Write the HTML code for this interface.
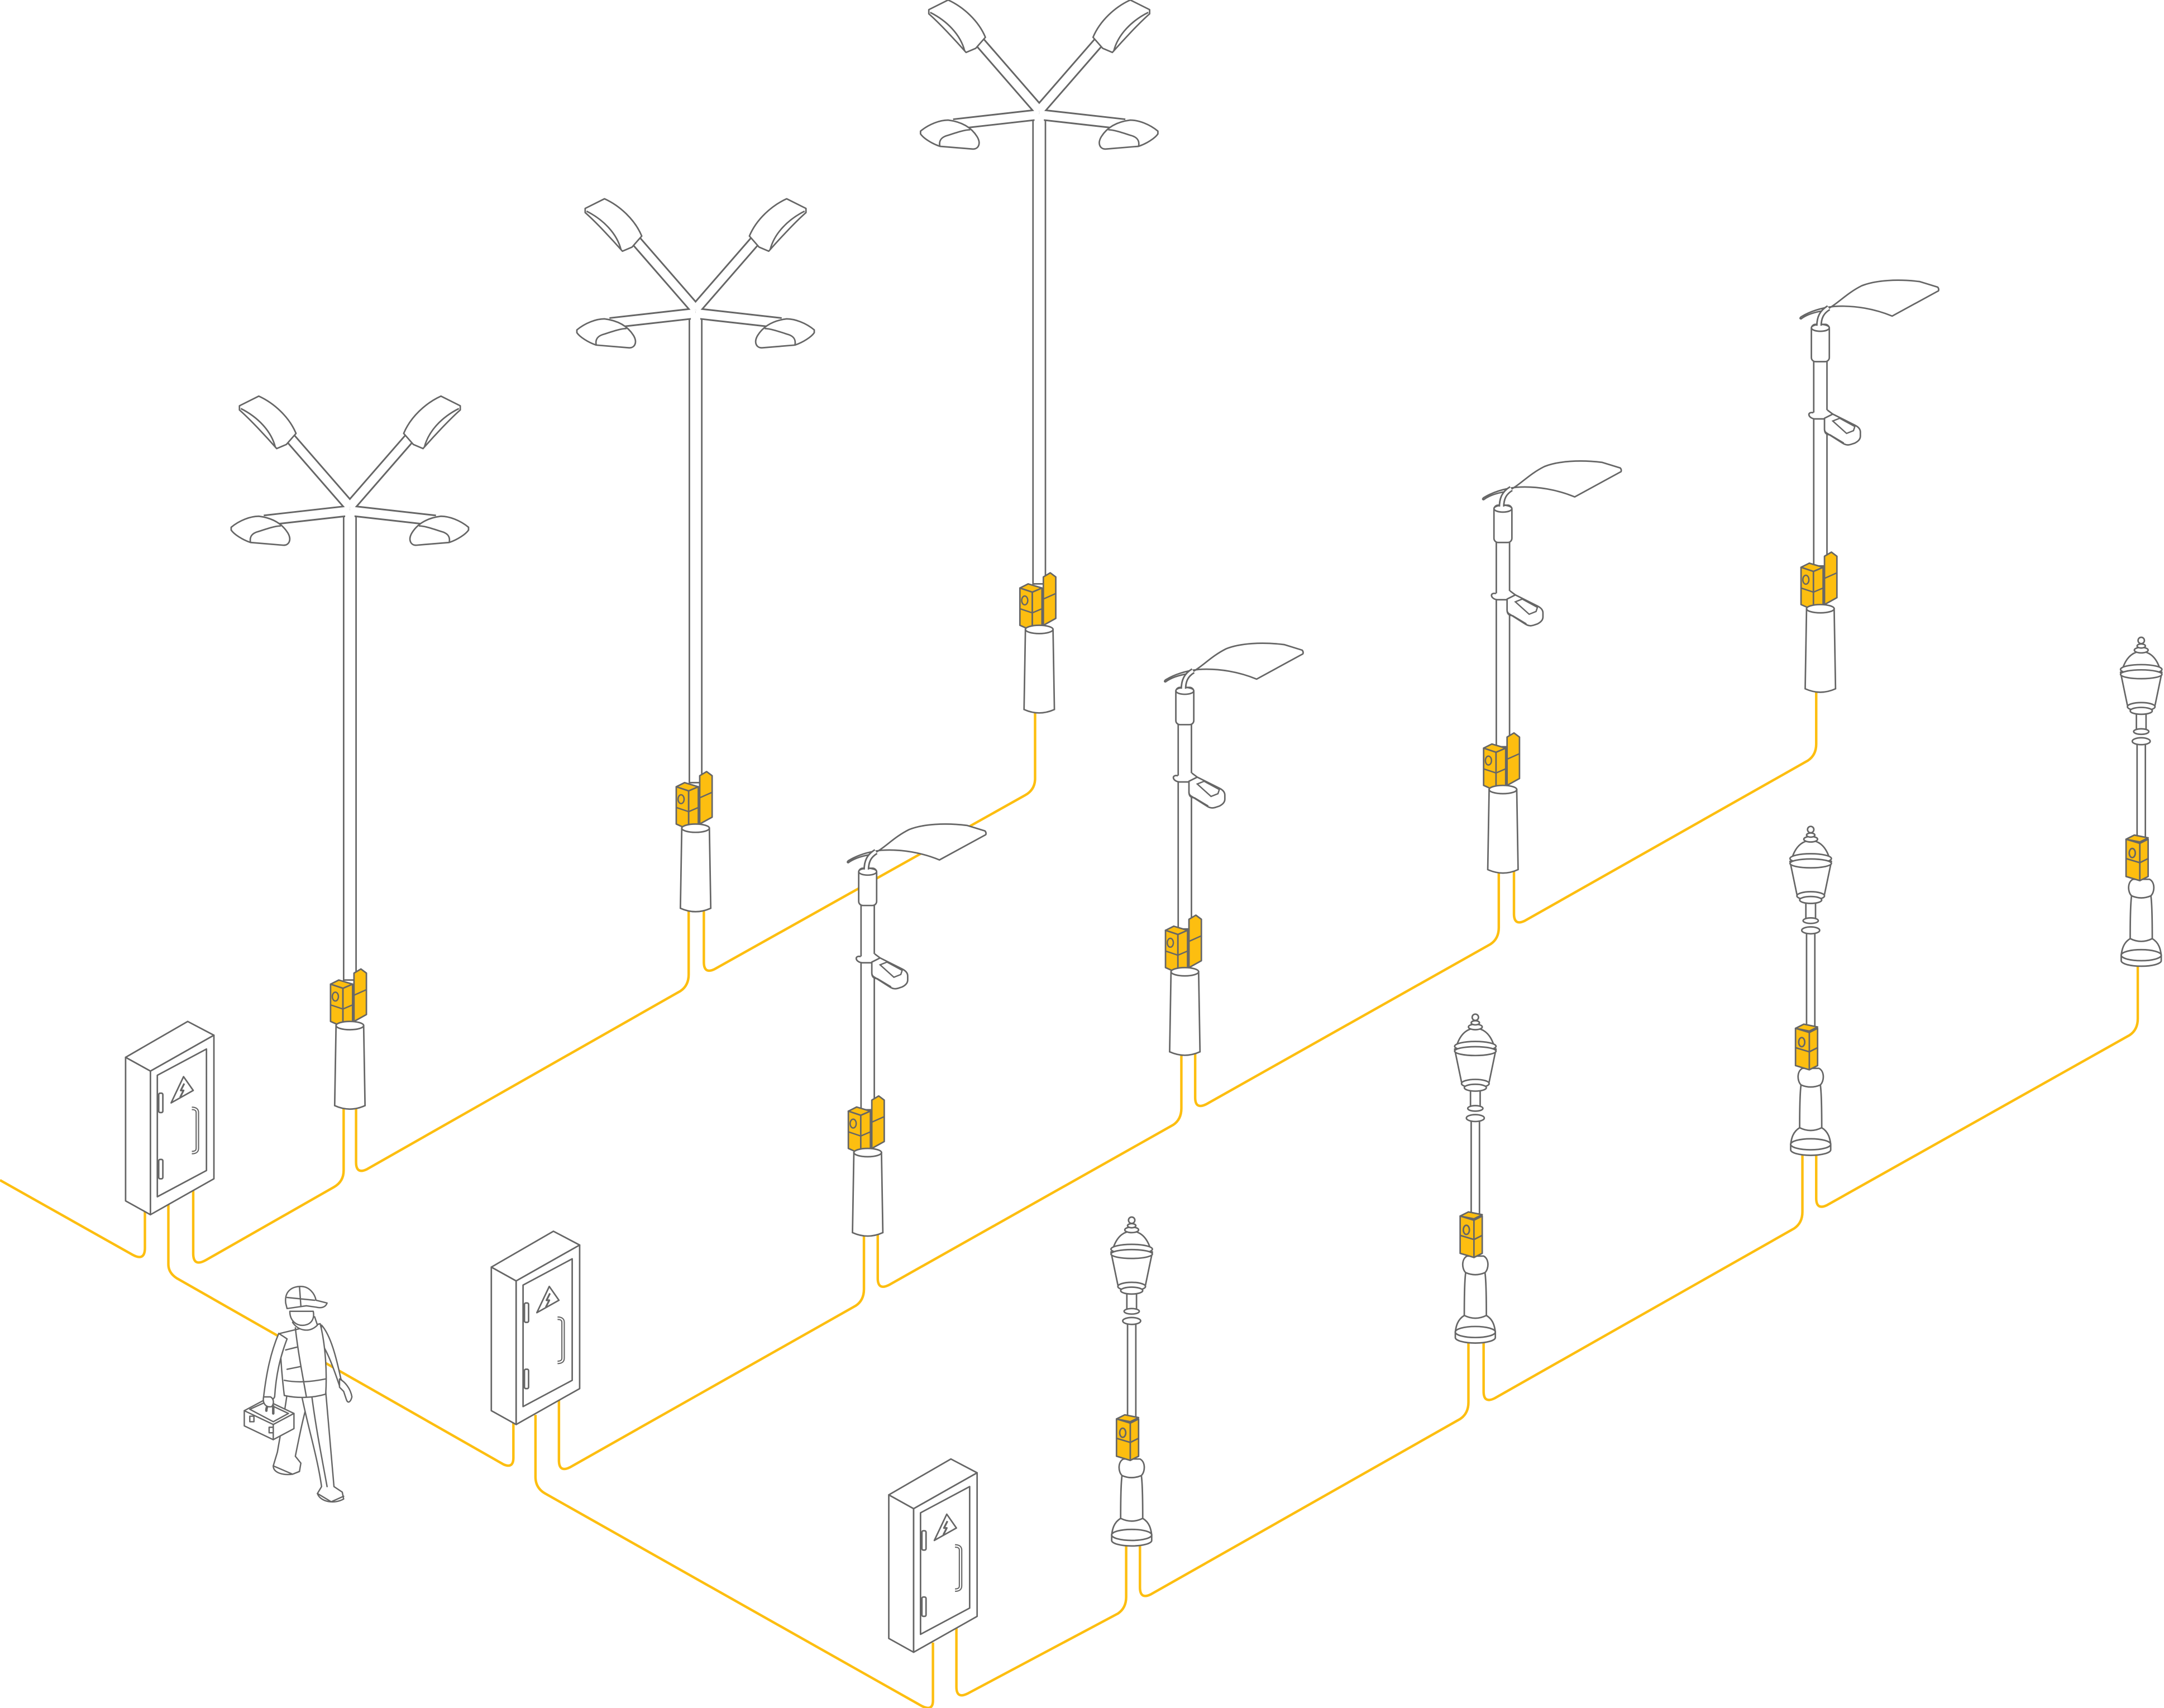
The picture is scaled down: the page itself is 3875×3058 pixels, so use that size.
<!DOCTYPE html>
<html><head><meta charset="utf-8"><style>
html,body{margin:0;padding:0;background:#fff;}
svg{display:block;}
</style></head><body>
<svg width="3875" height="3058" viewBox="0 0 1568 1237.4" preserveAspectRatio="none" xmlns="http://www.w3.org/2000/svg">
<defs>
<g id="boxA">
  <path d="M3,-2 L8,-5 L12,-2 L12,28 L3,33 Z" fill="#FDBE10" stroke="#666" stroke-width="1.1" stroke-linejoin="round"/>
  <path d="M3,14 L12,10" stroke="#666" stroke-width="1"/>
  <path d="M-14,6 L-8,3 L2,6 L-5,9 Z" fill="#FDBE10" stroke="#666" stroke-width="1.1" stroke-linejoin="round"/>
  <path d="M-14,6 L-5,9 L-5,37 L-14,33 Z" fill="#FDBE10" stroke="#666" stroke-width="1.1" stroke-linejoin="round"/>
  <path d="M-5,9 L2,6 L2,34 L-5,37 Z" fill="#FDBE10" stroke="#666" stroke-width="1.1" stroke-linejoin="round"/>
  <ellipse cx="-10.5" cy="15" rx="2.2" ry="3.2" fill="none" stroke="#666" stroke-width="1"/>
  <path d="M-14,21 L-5,24 L2,21" fill="none" stroke="#666" stroke-width="1"/>
</g>
<g id="cone">
  <path d="M-10,1 L10,1 L11,59 Q0,64 -11,59 Z" fill="#fff" stroke="#666" stroke-width="1.1"/>
  <ellipse cx="0" cy="1" rx="10" ry="3" fill="#fff" stroke="#666" stroke-width="1.1"/>
</g>
<g id="lampA">
  <rect x="-4.5" y="-2" width="9" height="345" fill="#fff" stroke="#666" stroke-width="1.1"/>
  <g fill="none" stroke-linecap="butt">
    <path d="M0,0 L-47,-54 M0,0 L47,-54 M0,3 L-62,10 M0,3 L62,10" stroke="#666" stroke-width="8.4"/>
    <path d="M0,0 L-47,-54 M0,0 L47,-54 M0,3 L-62,10 M0,3 L62,10" stroke="#fff" stroke-width="6"/>
    <rect x="-3.4" y="3" width="6.8" height="6" fill="#fff" stroke="none"/>
  </g>
  <g id="headsL" fill="#fff" stroke="#666" stroke-width="1.1" stroke-linejoin="round">
    <path d="M-80,-73 L-66,-80 C-55,-75 -44,-65 -39,-53 L-46,-45 L-53,-42 C-60,-50 -72,-63 -80,-70 Z"/>
    <path d="M-79,-71 C-67,-65 -57,-55 -54,-43" fill="none"/>
    <path d="M-86,15 C-80,10 -72,7 -66,7 C-58,8 -50,11 -45,19 C-42,24 -44,28 -48,28 L-72,26 C-78,24 -84,20 -86,17 Z"/>
    <path d="M-72,26 C-73,21 -70,19 -66,18 C-60,16 -54,14 -50,14" fill="none"/>
  </g>
  <use href="#headsL" transform="scale(-1,1)"/>
  <use href="#boxA" transform="translate(0,340)"/>
  <use href="#cone" transform="translate(0,375)"/>
</g>
<g id="lampB">
  <rect x="-4.8" y="25" width="9.6" height="150" fill="#fff" stroke="#666" stroke-width="1.1"/>
  <path d="M-14,-4 C-10,-7 -4,-9 3,-10 C12,-14 18,-22 30,-28 C40,-32 56,-33 72,-31 L85,-27 C86,-26 86,-24 85,-24 L52,-6 C40,-11 25,-14 10,-13 C0,-12 -8,-9 -13,-6 C-15,-5 -15,-4 -14,-4 Z" fill="#fff" stroke="#666" stroke-width="1.1" stroke-linejoin="round"/>
  <path d="M-1,2 C-1,-5 1,-9 6,-12" fill="none" stroke="#666" stroke-width="4.2"/>
  <path d="M-1,2 C-1,-5 1,-9 6,-12" fill="none" stroke="#fff" stroke-width="2"/>
  <rect x="-6.5" y="0" width="13" height="27" rx="3" fill="#fff" stroke="#666" stroke-width="1.1"/>
  <ellipse cx="0" cy="2.5" rx="6.5" ry="2.5" fill="#fff" stroke="#666" stroke-width="1.1"/>
  <path d="M-1,1 C-1,-5 1,-9 6,-12" fill="none" stroke="#666" stroke-width="4.2"/>
  <path d="M-1,1.5 C-1,-5 1,-9 6,-12" fill="none" stroke="#fff" stroke-width="2"/>
  <path d="M-5,64 C-10,63 -9,68 -4,68.5 L4,68.5 L6,68 L9,65 L5,62" fill="#fff" stroke="#666" stroke-width="1.1"/>
  <path d="M3,68 L9,65 L25,73 Q29,75 29,78 L29,81 Q29,84 25,86 L22,87 Q19,88 16,86 L5,79 Q3,78 3,76 Z" fill="#fff" stroke="#666" stroke-width="1.1" stroke-linejoin="round"/>
  <path d="M9,70 L14,68 L25,74 L24,77 L19,79 Z" fill="none" stroke="#666" stroke-width="1"/>
  <path d="M3,76 Q3,80 7,80 L17,86" fill="none" stroke="#666" stroke-width="1"/>
  <use href="#boxA" transform="translate(0,170)"/>
  <use href="#cone" transform="translate(0,205)"/>
</g>
<g id="lampC" stroke="#666" stroke-width="1.1" fill="#fff" stroke-linejoin="round">
  <rect x="-3" y="76" width="6" height="72"/>
  <rect x="-3.5" y="55" width="7" height="14"/>
  <ellipse cx="0" cy="70" rx="5.5" ry="2"/>
  <ellipse cx="0" cy="77" rx="6.5" ry="2.5"/>
  <path d="M-15,27 L-10,51 L10,51 L15,27 Z"/>
  <ellipse cx="0" cy="52" rx="10" ry="3"/>
  <ellipse cx="0" cy="55" rx="8" ry="2.5"/>
  <path d="M-13,23 C-10,15 -5,12 0,12 C5,12 10,15 13,23 Z"/>
  <ellipse cx="0" cy="25" rx="15" ry="3.5"/>
  <ellipse cx="0" cy="28.5" rx="15" ry="3.2"/>
  <ellipse cx="0" cy="11" rx="5" ry="2"/>
  <ellipse cx="0" cy="8" rx="3" ry="1.5"/>
  <circle cx="0" cy="4" r="2.3"/>
  <path d="M-14.5,232 L-14.5,236 A14.5 4 0 0 0 14.5,236 L14.5,232"/>
  <path d="M-6,177 C-10,179 -10,186 -7,189 C-8,196 -8,210 -8,220 C-13,223 -14,228 -14.5,232 L14.5,232 C14,228 13,223 8,220 C8,210 8,196 7,189 C10,186 10,179 6,177 Z"/>
  <ellipse cx="0" cy="232" rx="14.5" ry="4"/>
  <path d="M-7,189 Q0,192 7,189 M-8,220 Q0,224 8,220" fill="none"/>
  <path d="M-11,148 L-5,145 L5,147 L-1,150 Z" fill="#FDBE10"/>
  <path d="M-11,148 L-1,151 L-1,178 L-11,175 Z" fill="#FDBE10"/>
  <path d="M-1,151 L5,148 L5,175 L-1,178 Z" fill="#FDBE10"/>
  <ellipse cx="-6.5" cy="158" rx="2.2" ry="3.3" fill="none"/>
  <path d="M-11,162 L-1,165 L5,162" fill="none"/>
</g>
<g id="cab" stroke="#666" stroke-width="1.1" fill="#fff" stroke-linejoin="round">
  <path d="M0,26 L45,0 L64,10 L18,36 Z"/>
  <path d="M0,26 L18,36 L18,140 L0,130 Z"/>
  <path d="M18,36 L64,10 L64,114 L18,140 Z"/>
  <path d="M23,39 L58.6,20 L58.6,108 L23,127 Z"/>
  <rect x="24" y="52" width="3" height="14" rx="1"/>
  <rect x="24" y="100" width="3" height="14" rx="1"/>
  <path d="M33,59 L42,40 L49,50 Z"/>
  <path d="M42.5,45 L40,50 L42,50 L39.5,55" fill="none" stroke-width="1.3"/>
  <path d="M48,63 Q52,63 52,66 L52,92 Q52,95 48,95" fill="none" stroke-width="2.6"/>
  <path d="M48,63 Q52,63 52,66 L52,92 Q52,95 48,95" fill="none" stroke="#fff" stroke-width="0.9"/>
</g>
</defs>

<!-- cables -->
<g fill="none" stroke="#FDBE10" stroke-width="1.8" stroke-linejoin="round">
<path d="M0,855 L96,909 Q105,914 105,904 L105,870"/>
<path d="M122,872 L122,916 Q122,922 128,926 L365,1061 Q372,1064 372,1056 L372,1025"/>
<path d="M140,862 L140,908 Q140,918 149,913 L242,860 Q249,856 249,848 L249,800"/>
<path d="M258,800 L258,842 Q258,851 266,847 L493,718 Q499,714 499,706 L499,658"/>
<path d="M510,658 L510,697 Q510,706 518,702 L743,576 Q750,572 750,564 L750,512"/>
<path d="M388,1025 L388,1070 Q388,1078 395,1082 L668,1236 Q676,1240 676,1232 L676,1190"/>
<path d="M405,1012 L405,1058 Q405,1067 413,1063 L620,946 Q626,942 626,934 L626,886"/>
<path d="M636,884 L636,926 Q636,935 644,931 L850,815 Q856,811 856,803 L856,756"/>
<path d="M866,752 L866,795 Q866,804 874,800 L1080,684 Q1086,680 1086,672 L1086,624"/>
<path d="M1097,620 L1097,662 Q1097,671 1105,667 L1310,551 Q1316,547 1316,539 L1316,492"/>
<path d="M693,1178 L693,1222 Q693,1231 701,1227 L810,1169 Q816,1165 816,1157 L816,1116"/>
<path d="M826,1116 L826,1150 Q826,1159 834,1155 L1058,1028 Q1064,1024 1064,1016 L1064,970"/>
<path d="M1075,970 L1075,1008 Q1075,1017 1083,1013 L1300,890 Q1306,886 1306,878 L1306,833"/>
<path d="M1316,833 L1316,868 Q1316,877 1324,873 L1543,750 Q1549,746 1549,738 L1549,696"/>
</g>

<!-- lamps -->
<use href="#lampA" transform="translate(753,80)"/>
<use href="#lampA" transform="translate(504,224)"/>
<use href="#lampA" transform="translate(253.5,367)"/>
<use href="#lampB" transform="translate(1319,235)"/>
<use href="#lampB" transform="translate(1089,366)"/>
<use href="#lampB" transform="translate(858.5,498)"/>
<use href="#lampB" transform="translate(628.7,629)"/>
<use href="#lampC" transform="translate(1551.5,460)"/>
<use href="#lampC" transform="translate(1312,597)"/>
<use href="#lampC" transform="translate(1069,733)"/>
<use href="#lampC" transform="translate(820,880)"/>

<!-- cabinets -->
<use href="#cab" transform="translate(91,740)"/>
<use href="#cab" transform="translate(356,892)"/>
<use href="#cab" transform="translate(644,1057)"/>

<!-- worker -->
<g stroke="#666" stroke-width="1" fill="#fff" stroke-linejoin="round" stroke-linecap="round">
  <path d="M208,1010 C206,1025 203,1040 201,1052 L198,1062 C198,1067 205,1069 212,1068 L217,1066 L218,1060 L214,1055 C217,1040 220,1025 224,1012 Z"/>
  <path d="M198,1062 L212,1068 L217,1066"/>
  <path d="M218,1008 C222,1030 230,1055 233,1077 L230,1082 C232,1088 242,1090 249,1086 L248,1081 L242,1077 C240,1055 238,1030 236,1008 Z"/>
  <path d="M230,1082 L240,1088 L249,1084" fill="none"/>
  <path d="M226,1012 C229,1035 233,1055 237,1077" fill="none"/>
  <path d="M233,960 C240,968 244,985 247,999 L249,1002 L246,1004 C242,992 237,978 232,972 Z"/>
  <path d="M246,999 C250,1001 254,1006 255,1012 C254,1016 252,1017 251,1014 L249,1008 L246,1005 Z"/>
  <path d="M203,966 L232,959 C236,975 237,995 236,1010 C226,1013 215,1013 206,1011 C204,995 203,980 203,966 Z"/>
  <path d="M206,1000 C216,1002 226,1001 236,999 M214,962 C216,980 219,995 222,1012 M207,978 L215,976 M208,992 L218,990" fill="none"/>
  <path d="M212,958 C216,964 224,966 230,960 L228,954 L214,955 Z"/>
  <path d="M202,966 C196,980 193,995 191,1012 C192,1016 197,1016 199,1012 C200,996 203,983 208,970 Z"/>
  <path d="M177,1022 L192,1014 L213,1024 L213,1035 L198,1043 L177,1033 Z"/>
  <path d="M177,1022 L198,1032 L213,1024 M198,1032 L198,1043 M181,1021 L192,1016 L209,1024 L198,1030 Z" fill="none"/>
  <rect x="181" y="1026" width="3" height="4"/>
  <rect x="195" y="1034" width="3" height="4"/>
  <path d="M193,1022 C193,1017 197,1016 198,1019 L198,1024" fill="none" stroke-width="1.8"/>
  <path d="M191,1012 C190,1017 193,1020 197,1019 C199,1016 198,1013 196,1012 Z"/>
  <path d="M210,950 C210,957 215,961 221,960 C226,959 228,955 227,950 Z"/>
  <path d="M207,944 C206,935 212,932 218,932 C224,932 228,937 229,942 L237,944 C236,947 233,948 229,947 L222,946 L208,948 Z"/>
  <path d="M217,932 L218,946 M208,940 L228,942" fill="none"/>
</g>
</svg>
</body></html>
